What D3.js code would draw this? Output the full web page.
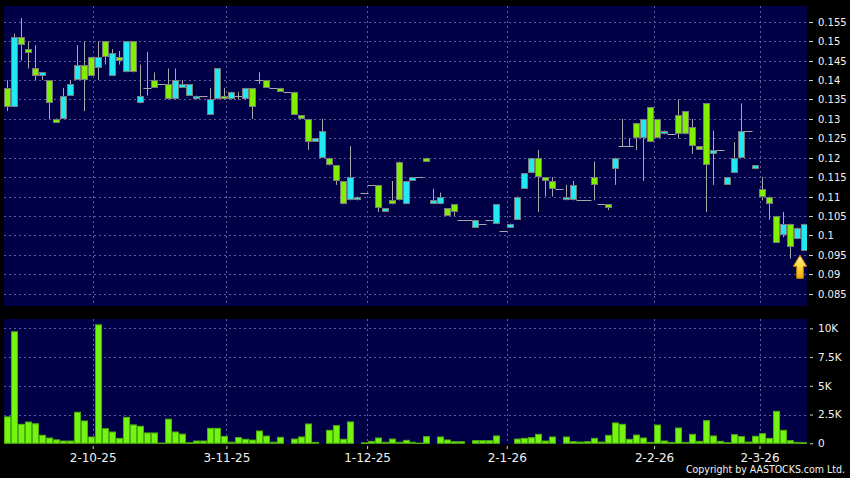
<!DOCTYPE html>
<html><head><meta charset="utf-8">
<script src="https://cdn.jsdelivr.net/npm/d3@7"></script>
<style>html,body{margin:0;padding:0;background:#000;}svg{display:block}</style>
</head><body><svg id="c" width="850" height="478"></svg>
<script>
// ---- data ----
// each row: [open, high, low, close]
const ohlc = [
 [.138,.140,.132,.133],[.133,.152,.133,.151],[.151,.156,.145,.149],[.148,.150,.143,.147],[.143,.149,.140,.141],
 [.141,.142,.140,.142],[.140,.140,.130,.134],[.1301,.1301,.129,.129],[.130,.138,.130,.136],[.136,.140,.136,.139],
 [.140,.149,.140,.144],[.144,.150,.132,.140],[.146,.146,.141,.141],[.143,.150,.140,.146],[.150,.150,.144,.146],
 [.141,.148,.141,.147],[.146,.1475,.144,.145],[.142,.150,.142,.150],[.150,.150,.142,.142],[.134,.144,.134,.136],
 [.138,.1473,.136,.138],[.140,.142,.138,.138],[.139,.139,.139,.139],[.139,.143,.135,.135],[.135,.143,.135,.140],
 [.138,.140,.138,.139],[.136,.139,.136,.139],[.135,.136,.135,.136],[.136,.136,.136,.136],[.131,.138,.131,.135],
 [.135,.143,.135,.143],[.136,.138,.135,.135],[.135,.137,.135,.137],[.136,.137,.135,.136],[.135,.138,.135,.138],
 [.138,.138,.130,.133],[.140,.142,.139,.140],[.140,.140,.138,.138],[.138,.138,.138,.138],[.138,.138,.137,.137],
 [.137,.137,.137,.137],[.137,.137,.131,.131],[.131,.131,.130,.130],[.130,.130,.122,.124],[.124,.125,.124,.125],
 [.120,.130,.120,.127],[.120,.120,.118,.118],[.118,.118,.113,.114],[.114,.114,.108,.108],[.109,.123,.109,.115],
 [.109,.110,.109,.110],[.111,.111,.111,.111],[.113,.113,.113,.113],[.113,.113,.106,.107],[.106,.107,.106,.107],
 [.109,.114,.108,.108],[.119,.119,.109,.109],[.108,.114,.108,.114],[.114,.115,.114,.115],[.115,.115,.115,.115],
 [.120,.120,.119,.119],[.108,.112,.108,.109],[.108,.111,.108,.110],[.107,.107,.105,.105],[.108,.108,.105,.106],
 [.104,.104,.104,.104],[.104,.104,.104,.104],[.102,.104,.102,.104],[.103,.103,.103,.103],[.104,.104,.104,.104],
 [.103,.108,.103,.108],[.101,.101,.101,.101],[.102,.103,.102,.103],[.104,.110,.104,.110],[.112,.116,.112,.116],
 [.116,.120,.116,.120],[.120,.122,.106,.115],[.115,.115,.110,.114],[.114,.115,.110,.112],[.112,.112,.112,.112],
 [.109,.113,.109,.110],[.109,.114,.109,.113],[.109,.109,.109,.109],[.109,.109,.109,.109],[.115,.119,.109,.113],
 [.108,.108,.108,.108],[.108,.108,.1065,.107],[.117,.120,.113,.120],[.123,.130,.123,.123],[.123,.125,.123,.123],
 [.129,.129,.122,.125],[.125,.130,.114,.130],[.133,.133,.124,.124],[.130,.130,.125,.125],[.126,.127,.126,.127],
 [.126,.126,.126,.126],[.131,.135,.125,.126],[.132,.132,.126,.126],[.128,.130,.121,.123],[.123,.123,.122,.122],
 [.134,.134,.106,.118],[.121,.127,.113,.122],[.122,.122,.122,.122],[.113,.115,.113,.115],[.116,.124,.116,.120],
 [.120,.134,.120,.127],[.127,.127,.127,.127],[.117,.118,.117,.118],[.112,.115,.109,.110],[.110,.110,.104,.108],
 [.105,.105,.098,.098],[.100,.106,.0995,.103],[.103,.103,.094,.097],[.099,.102,.099,.102],[.096,.103,.096,.103]
];
// volume in thousands of shares
const volumesK = [
 2.3,9.7,1.65,1.85,1.7,0.7,0.46,0.3,0.2,0.2,
 2.7,1.94,0.55,10.3,1.27,0.98,0.43,2.26,1.6,1.48,
 0.9,0.9,0.02,2.1,0.98,0.8,0.05,0.2,0.2,1.3,
 1.3,0.6,0.1,0.5,0.35,0.28,1.07,0.63,0.1,0.52,
 0,0.37,0.55,1.68,0.08,0,1.13,1.54,0.35,1.86,
 0,0.04,0.17,0.46,0.09,0.37,0.09,0.26,0.09,0.02,
 0.58,0,0.55,0.29,0.14,0.14,0,0.23,0.23,0.23,
 0.64,0,0,0.37,0.43,0.49,0.78,0.2,0.55,0,
 0.55,0.14,0.11,0.14,0.43,0.11,0.69,1.77,1.65,0.35,
 0.72,0.46,0.08,1.59,0.2,0.08,1.33,0.08,0.78,0.17,
 1.97,0.64,0.17,0.05,0.75,0.58,0.11,0.61,0.84,0.43,
 2.78,1.13,0.23,0.08,0.05
];
const dateLabels = ["2-10-25","3-11-25","1-12-25","2-1-26","2-2-26","2-3-26"];
const datePos = [12.2, 31.35, 51.5, 71.5, 92.6, 107.7]; // position on the trading-day index axis
const priceTicks = [0.085,0.09,0.095,0.1,0.105,0.11,0.115,0.12,0.125,0.13,0.135,0.14,0.145,0.15,0.155];
const volTicks = [0,2.5,5,7.5,10];
const volTickLabels = ["0","2.5K","5K","7.5K","10K"];
const copyright = "Copyright by AASTOCKS.com Ltd.";

// ---- layout ----
const L = 4, R = 807;
const mainTop = 6, mainBot = 306;
const volTop = 319, volBot = 444;
const COLORS = {bg:"#000000", panel:"#000046", grid:"#5d5d9e", up:"#22e8f4", down:"#80f000",
  edge:"#7a7a7a", wick:"#a8a8a8", vol:"#72f511", volEdge:"#4fae0c", text:"#f2f2f2"};
const FONT = "DejaVu Sans, Verdana, sans-serif";

const svg = d3.select("#c");
svg.append("rect").attr("width",850).attr("height",478).attr("fill",COLORS.bg);

const n = ohlc.length;
const x = d3.scaleLinear().domain([-0.5, n-0.5]).range([L, R]);
const step = x(1)-x(0);
const y = d3.scaleLinear().domain([0.085, 0.155]).range([293.5, 21.9]);
const yv = d3.scaleLinear().domain([0, 10]).range([443.3, 328.3]);

// panels
svg.append("rect").attr("x",L).attr("y",mainTop).attr("width",R-L).attr("height",mainBot-mainTop).attr("fill",COLORS.panel);
svg.append("rect").attr("x",L).attr("y",volTop).attr("width",R-L).attr("height",volBot-volTop).attr("fill",COLORS.panel);

const defs = svg.append("defs");
defs.append("clipPath").attr("id","cm").append("rect").attr("x",L).attr("y",mainTop).attr("width",R-L).attr("height",mainBot-mainTop);
defs.append("clipPath").attr("id","cv").append("rect").attr("x",L).attr("y",volTop).attr("width",R-L).attr("height",volBot-volTop);
const grad = defs.append("linearGradient").attr("id","ag").attr("x1",0).attr("x2",0).attr("y1",0).attr("y2",1);
grad.append("stop").attr("offset","0%").attr("stop-color","#fff2a0");
grad.append("stop").attr("offset","60%").attr("stop-color","#ffd030");
grad.append("stop").attr("offset","100%").attr("stop-color","#f0a800");

const px = v => Math.round(v)+0.5;

// grid - main
const gm = svg.append("g").attr("stroke",COLORS.grid).attr("stroke-width",1).attr("stroke-dasharray","2,3");
priceTicks.forEach(t=>{ gm.append("line").attr("x1",L).attr("x2",R).attr("y1",px(y(t))).attr("y2",px(y(t))); });
datePos.forEach(p=>{ gm.append("line").attr("x1",px(x(p))).attr("x2",px(x(p))).attr("y1",mainTop).attr("y2",mainBot);
                     gm.append("line").attr("x1",px(x(p))).attr("x2",px(x(p))).attr("y1",volTop).attr("y2",volBot); });
volTicks.slice(1).forEach(t=>{ gm.append("line").attr("x1",L).attr("x2",R).attr("y1",px(yv(t))).attr("y2",px(yv(t))); });

// candles
const gc = svg.append("g").attr("clip-path","url(#cm)");
ohlc.forEach((d,i)=>{
  const [o,h,l,c] = d;
  const xc = x(i);
  const left = Math.round(xc-3);
  const wx = left+3.5;
  gc.append("line").attr("x1",wx).attr("x2",wx).attr("y1",y(h)).attr("y2",y(l))
    .attr("stroke",COLORS.wick).attr("stroke-width",1);
  if (o === c) {
    gc.append("line").attr("x1",left-0.5).attr("x2",left+7.5).attr("y1",px(y(o))).attr("y2",px(y(o)))
      .attr("stroke",COLORS.wick).attr("stroke-width",1);
  } else {
    const yt = y(Math.max(o,c)), yb = y(Math.min(o,c));
    const top = Math.round(yt), bot = Math.max(Math.round(yb), top+3);
    gc.append("rect").attr("x",left+0.5).attr("y",top+0.5).attr("width",6).attr("height",bot-top-1)
      .attr("fill", c>o ? COLORS.up : COLORS.down).attr("stroke",COLORS.edge).attr("stroke-width",1);
  }
});

// arrow marker under the last candle
const last = ohlc[n-1];
const ax = x(n-1) - step/2, ay = y(last[2]) + 4.5;
svg.append("path")
  .attr("d", d3.line()([[0,0],[6.7,11],[3.3,11],[3.3,23],[-3.3,23],[-3.3,11],[-6.7,11]]) + "Z")
  .attr("transform",`translate(${ax},${ay})`)
  .attr("fill","url(#ag)").attr("stroke","#c98600").attr("stroke-width",1).attr("stroke-linejoin","round");

// volume bars
const gvb = svg.append("g").attr("clip-path","url(#cv)");
volumesK.forEach((v,i)=>{
  if (v <= 0) return;
  const left = Math.round(x(i)-3);
  const top = yv(v), base = yv(0);
  gvb.append("rect").attr("x",left+0.5).attr("y",top).attr("width",6).attr("height",Math.max(base-top,0.8))
    .attr("fill",COLORS.vol).attr("stroke",COLORS.volEdge).attr("stroke-width",1);
});

// axes
function styleAxis(g, size){
  g.select(".domain").remove();
  g.selectAll(".tick line").attr("stroke","#d0d0d0");
  g.selectAll(".tick text").attr("fill",COLORS.text).attr("font-family",FONT).attr("font-size",size);
}
const ya = svg.append("g").attr("transform","translate(809,0)")
  .call(d3.axisRight(y).tickValues(priceTicks).tickSize(4).tickPadding(5).tickFormat(d=>String(d)));
styleAxis(ya, "10px");
ya.selectAll(".tick").attr("transform", d=>`translate(0,${px(y(d))})`);

const va = svg.append("g").attr("transform","translate(810,0)")
  .call(d3.axisRight(yv).tickValues(volTicks).tickSize(3).tickPadding(5).tickFormat((d,i)=>volTickLabels[i]));
styleAxis(va, "10.5px");

const xa = svg.append("g").attr("transform","translate(0,446)")
  .call(d3.axisBottom(x).tickValues(datePos).tickSize(3).tickPadding(4).tickFormat((d,i)=>dateLabels[i]));
styleAxis(xa, "12px");

svg.append("text").attr("x",845).attr("y",473).attr("text-anchor","end")
  .attr("fill",COLORS.text).attr("font-family",FONT).attr("font-size","11px")
  .attr("textLength",159).attr("lengthAdjust","spacingAndGlyphs").text(copyright);
</script>
</body></html>
